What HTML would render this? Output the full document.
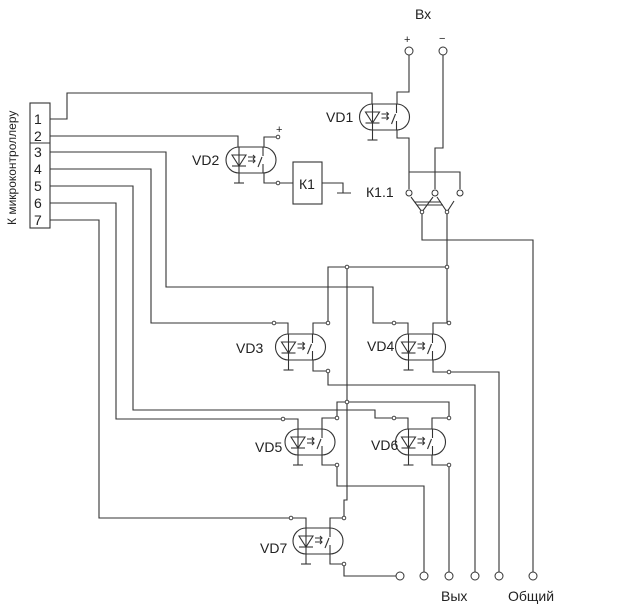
<!DOCTYPE html>
<html><head><meta charset="utf-8"><style>
html,body{margin:0;padding:0;background:#fff}
svg{display:block}
text{font-family:"Liberation Sans",sans-serif;font-size:14px;fill:#222}
</style></head><body>
<svg width="624" height="613" viewBox="0 0 624 613" xmlns="http://www.w3.org/2000/svg">
<defs>
<g id="opto" fill="none" stroke="#333" stroke-width="1.1">
<path d="M-12,-13 H12 A13,13 0 0 1 12,13 H-12 A13,13 0 0 1 -12,-13"/>
<line x1="-12" y1="-13" x2="-12" y2="23"/>
<line x1="-17" y1="23" x2="-7" y2="23"/>
<path d="M-19,-5 H-5 L-12,6 Z"/>
<line x1="-19" y1="6" x2="-5" y2="6"/>
<path d="M-3,-3 H4 M2,-5 L4,-3 L2,-1 M-3,1 H4 M2,-1 L4,1 L2,3"/>
<line x1="7" y1="7" x2="11" y2="-3"/>
<line x1="12" y1="-13" x2="12" y2="-4"/>
<line x1="12" y1="4" x2="12" y2="13"/>
</g>
</defs>
<g fill="none" stroke="#333" stroke-width="1.1">
<rect x="30" y="103" width="20" height="125"/>
<line x1="30" y1="143" x2="50" y2="143"/>
<path d="M50,119 H67 V93 H372 V104"/>
<path d="M50,136 H238 V147"/>
<path d="M50,152 H166 V287 H373 V323 H394"/>
<path d="M50,169 H151 V323 H274"/>
<path d="M50,186 H133 V410 H375 V418 H394"/>
<path d="M50,203 H116 V419 H283"/>
<path d="M50,220 H99 V518 H291"/>
<path d="M274,323 H288 V334"/>
<path d="M394,323 H408 V334"/>
<path d="M283,419 H298 V429"/>
<path d="M394,418 H408 V429"/>
<path d="M291,518 H306 V528"/>
<path d="M264,147 V137 H278 M264,173 V183 H278 H293"/>
<rect x="293" y="162" width="29" height="42"/>
<path d="M322,183 H343 V193 M337,193 H351"/>
<path d="M397,104 V92 H409 V55"/>
<path d="M443,55 V148 H435 V189"/>
<path d="M397,130 V138 H409 V189"/>
<path d="M409,172 H460 V189"/>
<path d="M411,197 L422,212 L433,197 M437,197 L447,212 L454,201"/>
<path d="M415,202 H441 M417,205 H443"/>
<path d="M422,212 V240 H533 V572"/>
<path d="M447,212 V323"/>
<path d="M328,323 V267 H447"/>
<path d="M347,267 V500 H344 V518"/>
<path d="M313,334 V323 H328"/>
<path d="M433,334 V323 H447"/>
<path d="M313,360 V371 H328 V385 H475 V572"/>
<path d="M433,360 V372 H449 H499 V572"/>
<path d="M337,418 V402 H449 V418"/>
<path d="M322,429 V418 H337"/>
<path d="M432,429 V418 H449"/>
<path d="M322,455 V465 H337 V486 H424 V572"/>
<path d="M432,455 V465 H449 V572"/>
<path d="M330,528 V518 H344"/>
<path d="M330,554 V564 H344 V576 H396"/>
</g>
<g fill="#fff" stroke="#333" stroke-width="1">
<circle cx="409" cy="51" r="4"/><circle cx="443" cy="51" r="4"/>
<circle cx="400" cy="576" r="4"/><circle cx="424" cy="576" r="4"/>
<circle cx="449" cy="576" r="4"/><circle cx="475" cy="576" r="4"/>
<circle cx="499" cy="576" r="4"/><circle cx="533" cy="576" r="4"/>
<circle cx="409" cy="193" r="3"/><circle cx="435" cy="193" r="3"/><circle cx="460" cy="193" r="3"/>
<g stroke-width="0.9">
<circle cx="278" cy="137" r="1.8"/><circle cx="278" cy="183" r="1.8"/>
<circle cx="274" cy="323" r="1.8"/><circle cx="328" cy="323" r="1.8"/><circle cx="328" cy="371" r="1.8"/>
<circle cx="394" cy="323" r="1.8"/><circle cx="449" cy="323" r="1.8"/><circle cx="449" cy="372" r="1.8"/>
<circle cx="347" cy="267" r="1.8"/><circle cx="447" cy="267" r="1.8"/><circle cx="347" cy="402" r="1.8"/>
<circle cx="283" cy="419" r="1.8"/><circle cx="337" cy="418" r="1.8"/><circle cx="337" cy="465" r="1.8"/>
<circle cx="394" cy="418" r="1.8"/><circle cx="449" cy="418" r="1.8"/><circle cx="449" cy="465" r="1.8"/>
<circle cx="291" cy="518" r="1.8"/><circle cx="344" cy="518" r="1.8"/><circle cx="344" cy="564" r="1.8"/>
<circle cx="422" cy="212" r="1.8"/><circle cx="447" cy="212" r="1.8"/>
</g>
</g>
<use href="#opto" x="384.5" y="117"/>
<use href="#opto" x="251" y="160"/>
<use href="#opto" x="300.5" y="347"/>
<use href="#opto" x="420.5" y="347"/>
<use href="#opto" x="310" y="442"/>
<use href="#opto" x="420.5" y="442"/>
<use href="#opto" x="318" y="541"/>
<text x="34" y="124">1</text><text x="34" y="141">2</text><text x="34" y="157">3</text>
<text x="34" y="174">4</text><text x="34" y="191">5</text><text x="34" y="208">6</text><text x="34" y="225">7</text>
<text transform="translate(16,225) rotate(-90)" style="font-size:12px">К микроконтроллеру</text>
<text x="415" y="19">Вх</text>
<text x="404" y="43" style="font-size:11px">+</text><text x="439" y="42" style="font-size:11px">−</text>
<text x="276" y="133" style="font-size:11px">+</text>
<text x="326" y="122">VD1</text>
<text x="192" y="165">VD2</text>
<text x="299" y="189">К1</text>
<text x="366" y="197">К1.1</text>
<text x="236" y="353">VD3</text>
<text x="367" y="351">VD4</text>
<text x="255" y="452">VD5</text>
<text x="371" y="450">VD6</text>
<text x="260" y="553">VD7</text>
<text x="441" y="601">Вых</text>
<text x="508" y="601">Общий</text>
</svg>
</body></html>
